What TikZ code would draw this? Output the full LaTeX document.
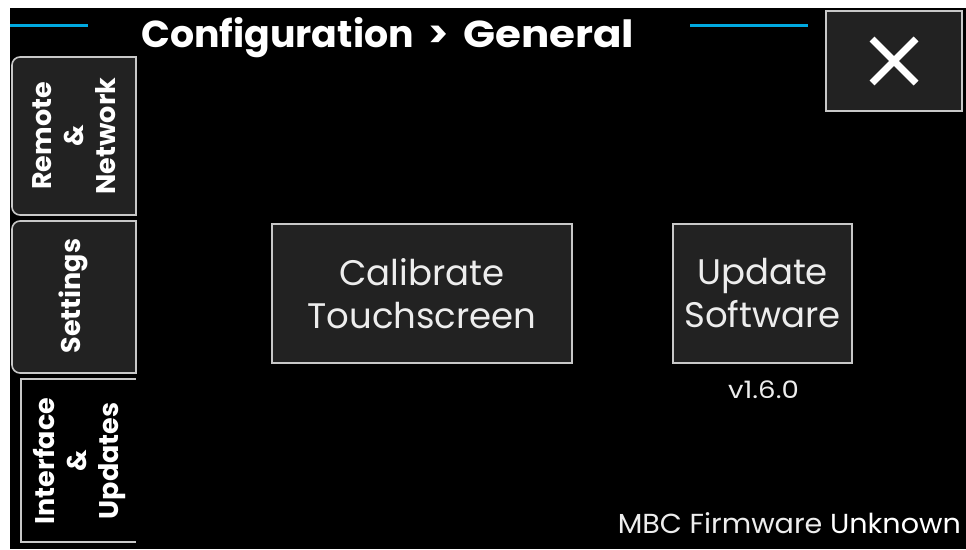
\documentclass[tikz,border=0pt]{standalone}
\usepackage{fontspec}
\usepackage{graphicx}
\setmainfont{Poppins}
\usetikzlibrary{calc}
\definecolor{accent}{HTML}{00A9E0}
\definecolor{panel}{HTML}{222222}
\definecolor{edge}{HTML}{C8C8C8}
\definecolor{txt}{HTML}{EDEDED}
\begin{document}
\begin{tikzpicture}[x=1pt,y=-1pt,
  tabshape/.style={draw=edge, line width=1.6pt, fill=panel},
  tabtext/.style={text=white, font=\bfseries\fontsize{27}{32}\selectfont, align=center, rotate=90, inner sep=0pt},
  btn/.style={draw=edge, line width=1.6pt, fill=panel, text=txt, align=center,
    font=\fontsize{35.5}{43}\selectfont, inner sep=0pt},
  accentline/.style={draw=accent, line width=3pt}]
\useasboundingbox (0,0) rectangle (966,549);
\fill[white] (0,0) rectangle (966,549);
\fill[black] (10,8) rectangle (966,549);
% accent lines
\coordinate (l1) at (10,25); \coordinate (l2) at (88,25);
\coordinate (r1) at (690,25); \coordinate (r2) at (808,25);
\draw[accentline] (l1) -- (l2);
\draw[accentline] (r1) -- (r2);
% title
\node[anchor=base west, inner sep=0pt, text=white, font=\bfseries\fontsize{37.5}{42}\selectfont] (title) at (141,47)
  {\makebox[287pt][l]{\scalebox{1.01}[1]{Configuration}}\makebox[35pt][l]{>}\scalebox{1.12}[1]{General}};
% close button
\node[draw=edge, line width=1.6pt, fill=panel, minimum width=136pt, minimum height=100pt, inner sep=0pt] (close) at (894,61) {};
\draw[white, line width=7pt] ($(close.center)+(-22,-22)$) -- ($(close.center)+(22,22)$);
\draw[white, line width=7pt] ($(close.center)+(22,-22)$) -- ($(close.center)+(-22,22)$);
% tabs
\draw[tabshape] (136,57) [rounded corners=8pt] -- (12,57) -- (12,215) [sharp corners] -- (136,215) -- cycle;
\node[tabtext] (remote) at (74,136) {Remote\\\&\\Network};
\draw[tabshape] (136,221) [rounded corners=8pt] -- (12,221) -- (12,373) [sharp corners] -- (136,373) -- cycle;
\node[tabtext] (settings) at (73,296) {Settings};
\fill[black] (21,379) rectangle (136,542);
\draw[draw=edge, line width=1.8pt] (136,379) -- (21,379) -- (21,542) -- (136,542);
\node[tabtext] (iface) at (80,461) {Interface\\\&\\Updates};
% buttons
\node[btn, minimum width=300pt, minimum height=139pt] (calib) at (422,293.5) {Calibrate\\Touchscreen};
\node[btn, minimum width=179pt, minimum height=139pt] (update) at (762.5,293.5) {Update\\Software};
\node[text=txt, font=\fontsize{24}{28}\selectfont, inner sep=0pt, anchor=base] (ver) at (763.5,398) {\scalebox{1.15}[1]{v1.6.0}};
\node[text=txt, font=\fontsize{27.5}{32}\selectfont, inner sep=0pt, anchor=base east] (fw) at (961,533) {\scalebox{1.04}[1]{MBC Firmware \textcolor{white}{Unknown}}};
\end{tikzpicture}
\end{document}
